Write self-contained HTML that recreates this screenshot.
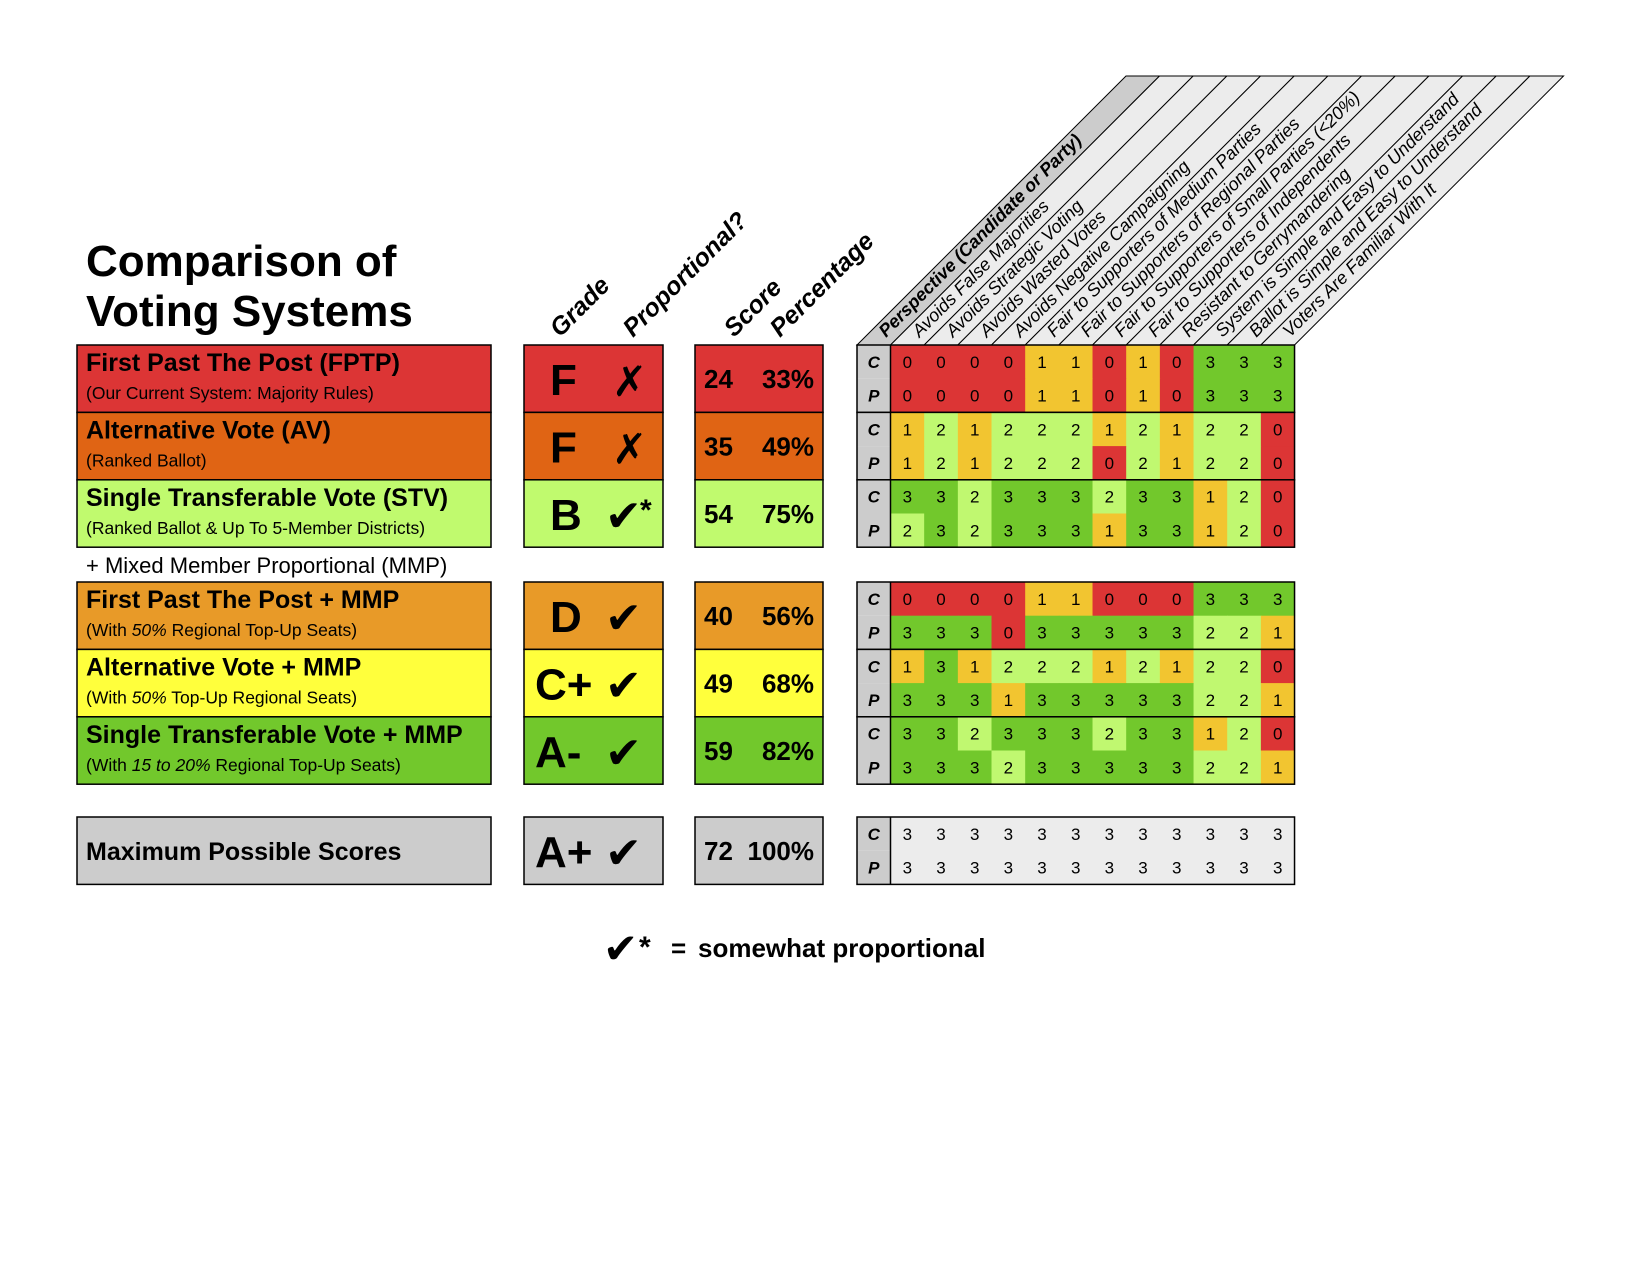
<!DOCTYPE html>
<html><head><meta charset="utf-8"><style>
html,body{margin:0;padding:0;background:#fff;}
svg{display:block;font-family:"Liberation Sans","DejaVu Sans",sans-serif;}
</style></head><body>
<svg id="chart" width="1650" height="1275" viewBox="0 0 1650 1275" xmlns="http://www.w3.org/2000/svg">
<rect width="1650" height="1275" fill="#fff"/>
</svg>
<script>
const criteria = ["Avoids False Majorities","Avoids Strategic Voting","Avoids Wasted Votes","Avoids Negative Campaigning","Fair to Supporters of Medium Parties","Fair to Supporters of Regional Parties","Fair to Supporters of Small Parties (<20%)","Fair to Supporters of Independents","Resistant to Gerrymandering","System is Simple and Easy to Understand","Ballot is Simple and Easy to Understand","Voters Are Familiar With It"];
const systemNames = ["First Past The Post (FPTP)","Alternative Vote (AV)","Single Transferable Vote (STV)","First Past The Post + MMP","Alternative Vote + MMP","Single Transferable Vote + MMP","Maximum Possible Scores"];
const systemNotes = [["(Our Current System: Majority Rules)"],["(Ranked Ballot)"],["(Ranked Ballot & Up To 5-Member Districts)"],["(With ","50%"," Regional Top-Up Seats)"],["(With ","50%"," Top-Up Regional Seats)"],["(With ","15 to 20%"," Regional Top-Up Seats)"],[]];
const grades = ["F","F","B","D","C+","A-","A+"];
const proportional = ["no","no","somewhat","yes","yes","yes","yes"];
const scores = [24,35,54,40,49,59,72];
const percents = ["33%","49%","75%","56%","68%","82%","100%"];
const candidateScores = [
 [0,0,0,0,1,1,0,1,0,3,3,3],
 [1,2,1,2,2,2,1,2,1,2,2,0],
 [3,3,2,3,3,3,2,3,3,1,2,0],
 [0,0,0,0,1,1,0,0,0,3,3,3],
 [1,3,1,2,2,2,1,2,1,2,2,0],
 [3,3,2,3,3,3,2,3,3,1,2,0],
 [3,3,3,3,3,3,3,3,3,3,3,3]];
const partyScores = [
 [0,0,0,0,1,1,0,1,0,3,3,3],
 [1,2,1,2,2,2,0,2,1,2,2,0],
 [2,3,2,3,3,3,1,3,3,1,2,0],
 [3,3,3,0,3,3,3,3,3,2,2,1],
 [3,3,3,1,3,3,3,3,3,2,2,1],
 [3,3,3,2,3,3,3,3,3,2,2,1],
 [3,3,3,3,3,3,3,3,3,3,3,3]];

const NS="http://www.w3.org/2000/svg";
const svg=document.getElementById('chart');
function mk(tag,attrs,parent,text){const e=document.createElementNS(NS,tag);for(const k in attrs)e.setAttribute(k,attrs[k]);if(text!==undefined)e.textContent=text;(parent||svg).appendChild(e);return e;}
const rowColors=["#dc3535","#e06414","#c0fa6e","#e89a28","#ffff3c","#72c82c","#cccccc"];
const cellColors=["#dc3535","#f2c530","#c0f870","#72c82c"];
const rowTop=[345,412.4,479.8,582,649.4,716.8,817];
const RH=67.4, GX=857, CPW=33.5, CW=33.67, GY=345;

let t=mk('text',{x:86,y:276,'font-size':44,'font-weight':'bold',fill:'#000'},svg,'Comparison of');

t=mk('text',{x:86,y:326,'font-size':44,'font-weight':'bold',fill:'#000'},svg,'Voting Systems');


const hdrs=[["Grade",560,338],["Proportional?",633,338],["Score",734,338],["Percentage",780,338]];
hdrs.forEach(h=>{const e=mk('text',{x:0,y:0,'font-size':25,'font-weight':'bold','font-style':'italic',transform:`translate(${h[1]} ${h[2]}) rotate(-45)`},svg,h[0]);
});

const H=GY-76;
const colLefts=[GX];for(let i=0;i<12;i++)colLefts.push(GX+CPW+i*CW);colLefts.push(GX+CPW+12*CW);
for(let i=0;i<13;i++){
 const a=colLefts[i],b=colLefts[i+1];
 const p=mk('polygon',{points:`${a},${GY} ${b},${GY} ${b+H},${GY-H} ${a+H},${GY-H}`,fill:i==0?'#cccccc':'#ececec',stroke:'#000','stroke-width':1});
 
 const sx=a+29, sy=GY-7;
 const lbl=i==0?'Perspective (Candidate or Party)':criteria[i-1];
 const tx=mk('text',{x:0,y:0,'font-size':18,'font-style':'italic','font-weight':i==0?'bold':'normal',fill:'#000',transform:`translate(${sx} ${sy}) rotate(-45)`},svg,lbl);
 
}

t=mk('text',{x:86,y:573,'font-size':22,fill:'#000'},svg,'+ Mixed Member Proportional (MMP)');


for(let r=0;r<7;r++){
 const y=rowTop[r], col=rowColors[r];
 const g=mk('g',{});
 
 let b=mk('rect',{x:77,y:y,width:414,height:RH,fill:col,stroke:'#000','stroke-width':1.5},g);
 
 if(r<6){
  let n=mk('text',{x:86,y:y+26,'font-size':25,'font-weight':'bold'},g,systemNames[r]);
  
  const note=mk('text',{x:86,y:y+54,'font-size':17.5},g);
  
  systemNotes[r].forEach((s,i)=>{mk('tspan',{'font-style':i==1?'italic':'normal'},note,s);});
 } else {
  let n=mk('text',{x:86,y:y+43,'font-size':25,'font-weight':'bold'},g,systemNames[r]);
  
 }
 b=mk('rect',{x:524,y:y,width:139,height:RH,fill:col,stroke:'#000','stroke-width':1.5},g);
 
 const gr=grades[r];
 let gt=mk('text',{x:gr.length>1?535:550,y:y+50,'font-size':44,'font-weight':'bold'},g,gr);
 
 const isNo=proportional[r]=='no';
 let mt=mk('text',{x:isNo?612:605,y:y+51,'font-size':isNo?42:44,'font-weight':'bold','font-family':'"DejaVu Sans",sans-serif'},g,isNo?'✗':'✔');
 
 if(proportional[r]=='somewhat'){let st=mk('text',{x:640,y:y+40,'font-size':30,'font-weight':'bold'},g,'*');}
 b=mk('rect',{x:695,y:y,width:128,height:RH,fill:col,stroke:'#000','stroke-width':1.5},g);
 
 let sc=mk('text',{x:704,y:y+43,'font-size':26,'font-weight':'bold'},g,scores[r]);
 
 let pc=mk('text',{x:814,y:y+43,'font-size':26,'font-weight':'bold','text-anchor':'end'},g,percents[r]);
 
 const half=RH/2;
 [candidateScores[r],partyScores[r]].forEach((arr,k)=>{
  const yy=y+k*half;
  let cp=mk('rect',{x:GX,y:yy,width:CPW,height:half,fill:'#cccccc'},g);
  
  let cpt=mk('text',{x:GX+CPW/2,y:yy+half/2+6,'font-size':17,'font-weight':'bold','font-style':'italic','text-anchor':'middle'},g,k?'P':'C');
  
  arr.forEach((v,i)=>{
   const cx=GX+CPW+i*CW;
   let c=mk('rect',{x:cx,y:yy,width:CW+0.5,height:half+0.5,fill:r==6?'#ececec':cellColors[v]},g);
   
   let ct=mk('text',{x:cx+CW/2,y:yy+half/2+6,'font-size':17,'text-anchor':'middle'},g,v);
   
  });
 });
 let gb=mk('rect',{x:GX,y:y,width:CPW+12*CW,height:RH,fill:'none',stroke:'#000','stroke-width':1.5},g);
 
 mk('line',{x1:GX+CPW,y1:y,x2:GX+CPW,y2:y+RH,stroke:'#000','stroke-width':1.5},g);
}

const lg=mk('g',{});

let l1=mk('text',{x:603,y:963,'font-size':42,'font-family':'"DejaVu Sans",sans-serif'},lg,'✔');

let l2=mk('text',{x:639,y:957,'font-size':30,'font-weight':'bold'},lg,'*');

let l4=mk('text',{x:671,y:957,'font-size':26,'font-weight':'bold'},lg,'=');

let l3=mk('text',{x:698,y:957,'font-size':26,'font-weight':'bold'},lg,'somewhat proportional');

</script>
</body></html>
